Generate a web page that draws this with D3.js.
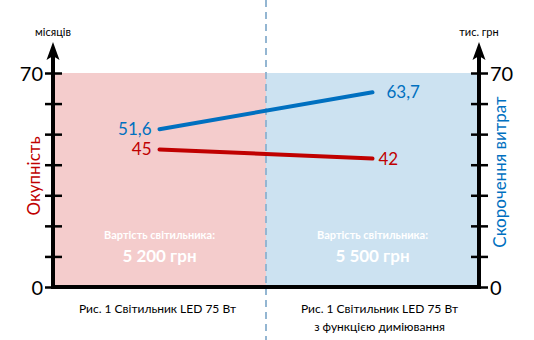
<!DOCTYPE html>
<html><head><meta charset="utf-8">
<script src="https://cdn.jsdelivr.net/npm/d3@7"></script>
<style>
html,body{margin:0;padding:0;background:#fff;}
svg{display:block;font-family:Lato,"Open Sans",sans-serif;}
</style></head>
<body>
<svg id="c" width="534" height="340"></svg>
<script>
const categories = ["Рис. 1 Світильник LED 75 Вт", "Рис. 1 Світильник LED 75 Вт\nз функцією диміювання"];
const paybackMonths = [45, 42];        // Окупність, місяців
const savings = [51.6, 63.7];          // Скорочення витрат, тис. грн
const lampPrices = ["5 200 грн", "5 500 грн"];
const priceCaption = "Вартість світильника:";
const tickValues = [0, 10, 20, 30, 40, 50, 60, 70];
const labeledTicks = [0, 70];
const bandColors = ["#f4cccc", "#cce2f1"];

(function(){
const svg = d3.select("#c");
const pl = 53, pr = 479, pt = 73, pb = 287;
const x = d3.scaleBand().domain(d3.range(categories.length)).range([pl, pr]).padding(0);
const y = d3.scaleLinear().domain([0, 70]).range([pb, pt]);

// bands
svg.selectAll("rect.band").data(categories).join("rect")
  .attr("x", (d,i)=>x(i)).attr("y", y(70))
  .attr("width", x.bandwidth()).attr("height", y(0)-y(70))
  .attr("fill", (d,i)=>bandColors[i]);

// dashed separator
const sepX = x(1);
svg.append("line").attr("x1", sepX).attr("x2", sepX).attr("y1", 0).attr("y2", 340)
  .attr("stroke", "#94b6d2").attr("stroke-width", 2).attr("stroke-dasharray", "7,5");

// price texts
categories.forEach((c,i)=>{
  const cx = x(i) + x.bandwidth()/2;
  svg.append("text").attr("x", cx).attr("y", 239).attr("text-anchor","middle")
    .attr("fill","#fff").attr("font-weight","bold").attr("font-size", 11).text(priceCaption);
  svg.append("text").attr("x", cx).attr("y", 262).attr("text-anchor","middle")
    .attr("fill","#fff").attr("font-weight","bold").attr("font-size", 17).text(lampPrices[i]);
});

// lines
const line = d3.line().x((d,i)=>x(i)+x.bandwidth()/2).y(d=>y(d));
svg.append("path").datum(savings).attr("d", line).attr("fill","none")
  .attr("stroke","#0070c0").attr("stroke-width",4).attr("stroke-linecap","round");
svg.append("path").datum(paybackMonths).attr("d", line).attr("fill","none")
  .attr("stroke","#c00000").attr("stroke-width",4).attr("stroke-linecap","round");

const fmt = v => String(v).replace(".", ",");
// data labels
svg.append("text").attr("x", x(0)+x.bandwidth()/2-8).attr("y", y(savings[0])).attr("dy","0.35em")
  .attr("text-anchor","end").attr("fill","#0070c0").attr("font-size",17).text(fmt(savings[0]));
svg.append("text").attr("x", x(0)+x.bandwidth()/2-8).attr("y", y(paybackMonths[0])).attr("dy","0.35em")
  .attr("text-anchor","end").attr("fill","#c00000").attr("font-size",17).text(fmt(paybackMonths[0]));
svg.append("text").attr("x", x(1)+x.bandwidth()/2+14).attr("y", y(savings[1])).attr("dy","0.35em")
  .attr("text-anchor","start").attr("fill","#0070c0").attr("font-size",17).text(fmt(savings[1]));
svg.append("text").attr("x", x(1)+x.bandwidth()/2+6).attr("y", y(paybackMonths[1])).attr("dy","0.35em")
  .attr("text-anchor","start").attr("fill","#c00000").attr("font-size",17).text(fmt(paybackMonths[1]));

// axes
function styleAxis(g, side){
  g.select(".domain").remove();
  g.selectAll(".tick line").attr("x1", -8).attr("x2", 9).attr("stroke","#000").attr("stroke-width",2.5);
  g.selectAll(".tick text").attr("font-size", 20).attr("fill","#000")
    .attr("font-family","Lato,'Open Sans',sans-serif")
    .attr("x", side === "left" ? -10 : 11).attr("dy","0.35em");
}
const fmtTick = d => labeledTicks.includes(d) ? d : "";
svg.append("g").attr("transform", `translate(${pl},0)`)
  .call(d3.axisLeft(y).tickValues(tickValues).tickFormat(fmtTick))
  .call(g=>styleAxis(g,"left"));
svg.append("g").attr("transform", `translate(${pr},0)`)
  .call(d3.axisRight(y).tickValues(tickValues).tickFormat(fmtTick))
  .call(g=>styleAxis(g,"right"));

// axis lines with arrows
[pl, pr].forEach(ax=>{
  svg.append("line").attr("x1", ax).attr("x2", ax).attr("y1", pb+2).attr("y2", 55)
    .attr("stroke","#000").attr("stroke-width",4);
  svg.append("path").attr("d", `M${ax},42 L${ax-6.5},60 L${ax},56 L${ax+6.5},60 Z`).attr("fill","#000");
});
svg.append("line").attr("x1", pl-2).attr("x2", pr+2).attr("y1", pb).attr("y2", pb)
  .attr("stroke","#000").attr("stroke-width",4);

// unit labels
svg.append("text").attr("x", pl).attr("y", 36).attr("text-anchor","middle")
  .attr("font-size", 11).attr("fill","#000").text("місяців");
svg.append("text").attr("x", pr).attr("y", 36).attr("text-anchor","middle")
  .attr("font-size", 11).attr("fill","#000").text("тис. грн");

// axis titles
svg.append("text").attr("transform", `translate(34,176) rotate(-90)`).attr("dy","0.35em")
  .attr("text-anchor","middle").attr("font-size",17).attr("fill","#c00000").text("Окупність");
svg.append("text").attr("transform", `translate(500,172) rotate(-90)`).attr("dy","0.35em")
  .attr("text-anchor","middle").attr("font-size",17).attr("fill","#0070c0").text("Скорочення витрат");

// category labels
categories.forEach((c,i)=>{
  const lines = c.split("\n");
  const cx = x(i) + x.bandwidth()/2 + (i===1 ? 7 : -2);
  const t = svg.append("text").attr("text-anchor","middle").attr("font-size",12).attr("fill","#000");
  lines.forEach((l,j)=>{
    t.append("tspan").attr("x", cx).attr("y", 313 + j*18).text(l);
  });
});
})();
</script>
</body></html>
